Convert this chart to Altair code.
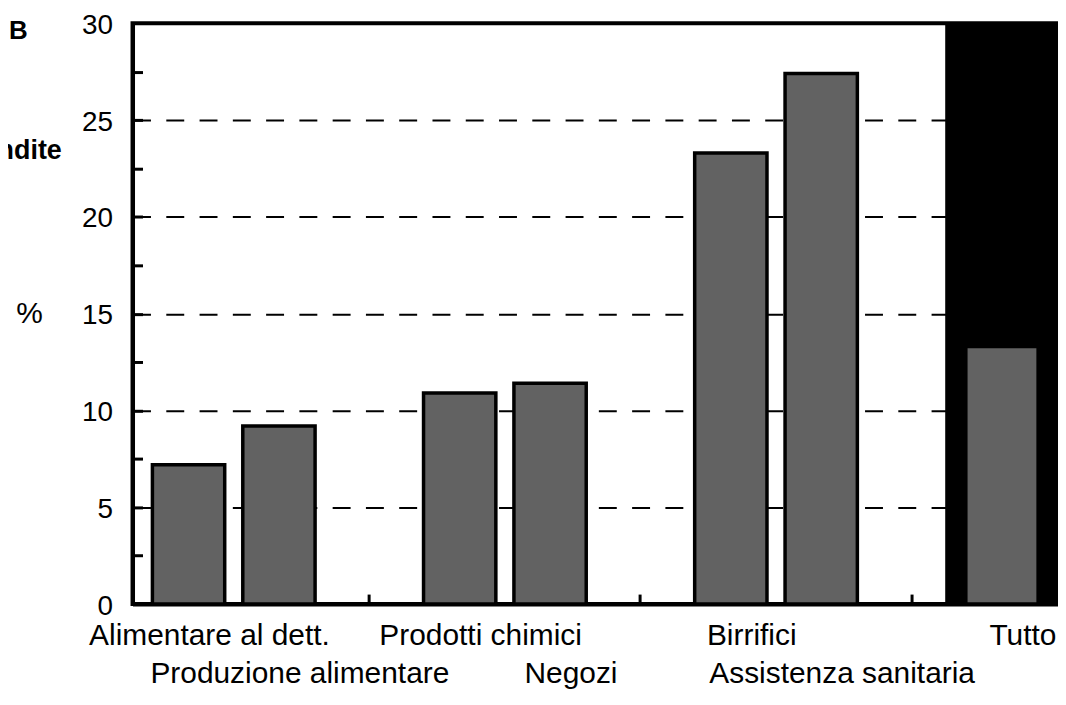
import altair as alt
import pandas as pd

# ---- data ----
categories = ["Alimentare al dett.", "Produzione alimentare", "Prodotti chimici",
              "Negozi", "Birrifici", "Assistenza sanitaria", "Tutto"]
values = [7.2, 9.2, 10.9, 11.4, 23.3, 27.4, 13.3]
bottom_row = ["Produzione alimentare", "Negozi", "Assistenza sanitaria"]
gaps = ["gap1", "gap2", "gap3"]
slot_order = ["Alimentare al dett.", "Produzione alimentare", "gap1",
              "Prodotti chimici", "Negozi", "gap2",
              "Birrifici", "Assistenza sanitaria", "gap3", "Tutto"]
highlight = ["Tutto"]
y_labels = [0, 5, 10, 15, 20, 25, 30]
y_minor = [2.5, 5, 7.5, 10, 12.5, 15, 17.5, 20, 22.5, 25, 27.5]
y_title = "%"
side_texts = ["B", "ndite"]

FONT = "Liberation Sans"
W, H = 929, 583

df = pd.DataFrame({"cat": categories, "val": values})
df_hl = pd.DataFrame({"cat": highlight})

xs = alt.Scale(domain=slot_order, paddingInner=0.2, paddingOuter=0.22)
ys = alt.Scale(domain=[0, 30], nice=False)

bottom_list = "[" + ",".join("'" + b + "'" for b in bottom_row) + "]"
label_expr = f"indexof({bottom_list}, datum.label) >= 0 ? ['', datum.label] : datum.label"

hl = alt.Chart(df_hl).mark_rect(color="black", width=alt.RelativeBandSize(1.57)).encode(
    x=alt.X("cat:N", scale=xs, axis=None)
)

bars = alt.Chart(df).mark_bar(fill="#626262", stroke="black", strokeWidth=3.5).encode(
    x=alt.X("cat:N", scale=xs, sort=slot_order, axis=alt.Axis(
        orient="bottom", values=categories, title=None, ticks=False, tickSize=0,
        labelExpr=label_expr, labelFont=FONT, labelFontSize=30, labelColor="black",
        labelPadding=17, labelLineHeight=38, labelOffset=21, labelAngle=0,
        labelOverlap=False, labelBound=False, labelFlush=False, labelLimit=0,
        domainColor="black", domainWidth=4, grid=False)),
    y=alt.Y("val:Q", scale=ys, axis=alt.Axis(
        orient="left", values=y_labels, ticks=False, tickSize=0,
        labelFont=FONT, labelFontSize=28, labelColor="black", labelPadding=20,
        labelOffset=2,
        domainColor="black", domainWidth=4,
        grid=True, gridColor="black", gridWidth=2, gridDash=[18, 15.4],
        title=y_title, titleAngle=0, titleX=-104, titleY=291, titleAlign="center",
        titleBaseline="middle", titleFont=FONT, titleFontSize=30,
        titleFontWeight="normal", titleColor="black")),
)

tick_layer = alt.Chart(df).mark_point(opacity=0).encode(
    x=alt.X("cat:N", scale=xs, axis=alt.Axis(
        orient="top", offset=-H, values=gaps, labels=False, domain=False, grid=False,
        ticks=True, tickSize=10, tickWidth=3, tickColor="black", title=None,
        bandPosition=0.5)),
    y=alt.Y("val:Q", scale=ys, axis=alt.Axis(
        orient="right", offset=-W, values=y_minor, labels=False, domain=False, grid=False,
        ticks=True, tickSize=10, tickWidth=3, tickColor="black", title=None)),
)

side_b = alt.Chart(pd.DataFrame({"t": [side_texts[0]]})).mark_text(
    font=FONT, fontSize=26, fontWeight="bold", align="left", baseline="alphabetic",
    color="black").encode(text="t:N", x=alt.value(-124), y=alt.value(16))
side_n = alt.Chart(pd.DataFrame({"t": [side_texts[1]]})).mark_text(
    font=FONT, fontSize=27, fontWeight="bold", align="right", baseline="alphabetic",
    color="black").encode(text="t:N", x=alt.value(-71), y=alt.value(136))

chart = alt.layer(hl, bars, tick_layer, side_b, side_n).properties(
    width=W, height=H,
    autosize=alt.AutoSizeParams(type="none"),
    padding={"left": 125, "top": 14, "right": 0, "bottom": 95},
    background="white",
).configure_view(stroke="black", strokeWidth=4)

chart.save("out.html", embed_options={"renderer": "svg", "actions": False})
